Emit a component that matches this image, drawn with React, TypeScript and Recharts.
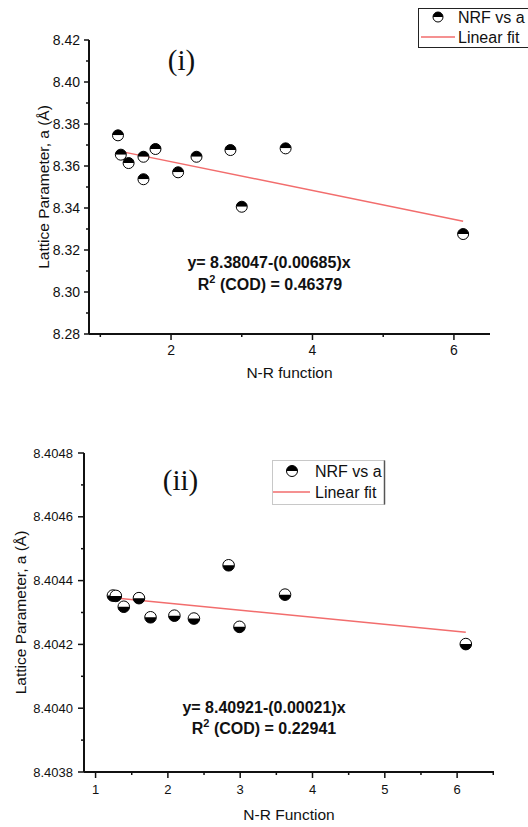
import React from 'react';
import { ScatterChart, Scatter, XAxis, YAxis, ReferenceLine, Legend } from 'recharts';

// ---------- Chart (i) data ----------
const topNRF = [1.25, 1.29, 1.40, 1.61, 1.61, 1.78, 2.10, 2.36, 2.84, 3.00, 3.62, 6.13];
const topLattice = [8.3746, 8.3654, 8.3614, 8.3644, 8.3537, 8.3681, 8.3570, 8.3644, 8.3676, 8.3406, 8.3684, 8.3276];
const topFitX = [1.25, 6.13];
const topFitY = [8.3672, 8.3337];
const topXMajor = [2, 4, 6];
const topXMinor = [1, 3, 5];
const topYMajor = [8.28, 8.30, 8.32, 8.34, 8.36, 8.38, 8.40, 8.42];
const topYMinor = [8.29, 8.31, 8.33, 8.35, 8.37, 8.39, 8.41];

// ---------- Chart (ii) data ----------
const botNRF = [1.24, 1.28, 1.39, 1.60, 1.76, 2.09, 2.36, 2.84, 2.99, 3.62, 6.12];
const botLattice = [8.404353, 8.404352, 8.404318, 8.404345, 8.404285, 8.404290, 8.404281, 8.404448, 8.404255, 8.404356, 8.404201];
const botFitX = [1.24, 6.12];
const botFitY = [8.404346, 8.404238];
const botXMajor = [1, 2, 3, 4, 5, 6];
const botXMinor = [1.5, 2.5, 3.5, 4.5, 5.5, 6.5];
const botYMajor = [8.4038, 8.4040, 8.4042, 8.4044, 8.4046, 8.4048];
const botYMinor = [8.4039, 8.4041, 8.4043, 8.4045, 8.4047];

const SANS = '"Liberation Sans", Arial, sans-serif';
const SERIF = '"Liberation Serif", "Times New Roman", serif';
const AXIS = '#111';
const FIT = '#f26d6d';

const topData = topNRF.map((x, i) => ({ x, y: topLattice[i] }));
const botData = botNRF.map((x, i) => ({ x, y: botLattice[i] }));

const isIn = (arr: number[], v: number) => arr.some((m) => Math.abs(m - v) < 1e-9);

const makeXTick = (majors: number[], fontSize: number, dy: number, majLen: number, minLen: number, digits: number) => (props: any) => {
  const { x, y, payload } = props;
  const v = payload.value;
  const major = isIn(majors, v);
  return (
    <g>
      <line x1={x} x2={x} y1={y} y2={y + (major ? majLen : minLen)} stroke={AXIS} strokeWidth={1.5} />
      {major && (
        <text x={x} y={y + dy} textAnchor="middle" fontSize={fontSize} fontFamily={SANS} fill="#111">
          {v.toFixed(digits)}
        </text>
      )}
    </g>
  );
};

const makeYTick = (majors: number[], fontSize: number, gap: number, majLen: number, minLen: number, digits: number) => (props: any) => {
  const { x, y, payload } = props;
  const v = payload.value;
  const major = isIn(majors, v);
  return (
    <g>
      <line x1={x} x2={x - (major ? majLen : minLen)} y1={y} y2={y} stroke={AXIS} strokeWidth={1.5} />
      {major && (
        <text x={x - gap} y={y + fontSize * 0.36} textAnchor="end" fontSize={fontSize} fontFamily={SANS} fill="#111">
          {v.toFixed(digits)}
        </text>
      )}
    </g>
  );
};

const Half = ({ cx, cy, r, topBlack }: { cx: number; cy: number; r: number; topBlack: boolean }) => {
  const top = `M ${cx - r} ${cy} A ${r} ${r} 0 0 1 ${cx + r} ${cy} Z`;
  const bottom = `M ${cx - r} ${cy} A ${r} ${r} 0 0 0 ${cx + r} ${cy} Z`;
  return (
    <g>
      <path d={top} fill={topBlack ? '#000' : '#fff'} />
      <path d={bottom} fill={topBlack ? '#fff' : '#000'} />
      <circle cx={cx} cy={cy} r={r} fill="none" stroke="#000" strokeWidth={1} />
    </g>
  );
};

const TopMarker = (p: any) => <Half cx={p.cx} cy={p.cy} r={5.5} topBlack={true} />;
const BotMarker = (p: any) => <Half cx={p.cx} cy={p.cy} r={5.8} topBlack={false} />;

const xTitle = (text: string, dy: number) => (props: any) => {
  const vb = props.viewBox;
  return (
    <text x={vb.x + vb.width / 2} y={vb.y + dy} textAnchor="middle" fontSize={15.5} fontFamily={SANS} fill="#111">
      {text}
    </text>
  );
};

const yTitle = (text: string, cx: number) => (props: any) => {
  const vb = props.viewBox;
  const cy = vb.y + vb.height / 2;
  const bx = cx + 5.5;
  return (
    <text x={bx} y={cy} transform={`rotate(-90 ${bx} ${cy})`} textAnchor="middle" fontSize={15.5} fontFamily={SANS} fill="#111">
      {text}
    </text>
  );
};

const TopLegend = () => (
  <svg width={110} height={41} style={{ display: 'block' }}>
    <rect x={0.5} y={0.5} width={130} height={39} fill="#fff" stroke="#222" strokeWidth={1} />
    <Half cx={20} cy={9} r={5} topBlack={true} />
    <text x={40} y={14.5} fontSize={16} fontFamily={SANS} fill="#111">NRF vs a</text>
    <line x1={3} x2={37} y1={29} y2={29} stroke={FIT} strokeWidth={1.5} />
    <text x={40} y={34.5} fontSize={16} fontFamily={SANS} fill="#111">Linear fit</text>
  </svg>
);

const BotLegend = () => (
  <svg width={115} height={46} style={{ display: 'block' }}>
    <rect x={0.5} y={0.5} width={112} height={44} fill="#fff" stroke="#c8c8c8" strokeWidth={1} />
    <line x1={112.5} x2={112.5} y1={0.5} y2={44.5} stroke="#555" strokeWidth={1.5} />
    <Half cx={20} cy={11} r={5.5} topBlack={true} />
    <text x={43} y={16.5} fontSize={16} fontFamily={SANS} fill="#111">NRF vs a</text>
    <line x1={1} x2={38} y1={32} y2={32} stroke={FIT} strokeWidth={1.5} />
    <text x={43} y={38} fontSize={16} fontFamily={SANS} fill="#111">Linear fit</text>
  </svg>
);

export default function App() {
  return (
    <div style={{ position: 'absolute', left: 0, top: 0, width: 528, height: 827, background: '#fff', overflow: 'hidden' }}>
      {/* Chart (i) */}
      <div style={{ position: 'absolute', left: 0, top: 0 }}>
        <ScatterChart width={528} height={400} margin={{ top: 40, right: 38, bottom: 0, left: 0 }}>
          <XAxis
            type="number"
            dataKey="x"
            domain={[0.84, 6.51]}
            allowDataOverflow
            ticks={[...topXMinor, ...topXMajor].sort((a, b) => a - b)}
            interval={0}
            tickSize={0}
            tickMargin={0}
            tickLine={false}
            axisLine={{ stroke: AXIS, strokeWidth: 2 }}
            height={66}
            tick={makeXTick(topXMajor, 14, 21, 6, 3, 0)}
            label={xTitle('N-R function', 44)}
          />
          <YAxis
            type="number"
            dataKey="y"
            domain={[8.28, 8.42]}
            allowDataOverflow
            ticks={[...topYMinor, ...topYMajor].sort((a, b) => a - b)}
            interval={0}
            tickSize={0}
            tickMargin={0}
            tickLine={false}
            axisLine={{ stroke: AXIS, strokeWidth: 2 }}
            width={89}
            tick={makeYTick(topYMajor, 14, 9, 5, 3, 2)}
            label={yTitle('Lattice Parameter, a (Å)', 43)}
          />
          <ReferenceLine
            segment={[{ x: topFitX[0], y: topFitY[0] }, { x: topFitX[1], y: topFitY[1] }]}
            stroke={FIT}
            strokeWidth={1.5}
            ifOverflow="visible"
          />
          <Scatter data={topData} shape={TopMarker} isAnimationActive={false} />
          <Legend
            layout="horizontal"
            verticalAlign="middle"
            align="center"
            content={() => <TopLegend />}
            wrapperStyle={{ left: 418, top: 8, width: 110, height: 41, overflow: 'hidden' }}
          />
        </ScatterChart>
      </div>

      {/* Chart (ii) */}
      <div style={{ position: 'absolute', left: 0, top: 410 }}>
        <ScatterChart width={528} height={417} margin={{ top: 43, right: 34, bottom: 0, left: 0 }}>
          <XAxis
            type="number"
            dataKey="x"
            domain={[0.84, 6.51]}
            allowDataOverflow
            ticks={[...botXMajor, ...botXMinor].sort((a, b) => a - b)}
            interval={0}
            tickSize={0}
            tickMargin={0}
            tickLine={false}
            axisLine={{ stroke: AXIS, strokeWidth: 2 }}
            height={55}
            tick={makeXTick(botXMajor, 13, 22, 6, 3, 0)}
            label={xTitle('N-R Function', 48)}
          />
          <YAxis
            type="number"
            dataKey="y"
            domain={[8.4038, 8.4048]}
            allowDataOverflow
            ticks={[...botYMinor, ...botYMajor].sort((a, b) => a - b)}
            interval={0}
            tickSize={0}
            tickMargin={0}
            tickLine={false}
            axisLine={{ stroke: AXIS, strokeWidth: 2 }}
            width={84}
            tick={makeYTick(botYMajor, 13, 11, 6, 3, 4)}
            label={yTitle('Lattice Parameter, a (Å)', 20)}
          />
          <ReferenceLine
            segment={[{ x: botFitX[0], y: botFitY[0] }, { x: botFitX[1], y: botFitY[1] }]}
            stroke={FIT}
            strokeWidth={1.5}
            ifOverflow="visible"
          />
          <Scatter data={botData} shape={BotMarker} isAnimationActive={false} />
          <Legend
            layout="horizontal"
            verticalAlign="middle"
            align="center"
            content={() => <BotLegend />}
            wrapperStyle={{ left: 272, top: 50, width: 115, height: 46 }}
          />
        </ScatterChart>
      </div>

      {/* Annotations */}
      <svg width={528} height={827} style={{ position: 'absolute', left: 0, top: 0, pointerEvents: 'none' }}>
        <text x={181.5} y={70} textAnchor="middle" fontSize={29} fontFamily={SERIF} fill="#111">(i)</text>
        <text x={269} y={268} textAnchor="middle" fontSize={16} fontWeight="bold" fontFamily={SANS} fill="#111">
          y= 8.38047-(0.00685)x
        </text>
        <text x={270} y={290} textAnchor="middle" fontSize={16} fontWeight="bold" fontFamily={SANS} fill="#111">
          R<tspan fontSize={11} dy={-7}>2</tspan><tspan dy={7}> (COD) = 0.46379</tspan>
        </text>

        <text x={180.5} y={490} textAnchor="middle" fontSize={29} fontFamily={SERIF} fill="#111">(ii)</text>
        <text x={264} y={713} textAnchor="middle" fontSize={16} fontWeight="bold" fontFamily={SANS} fill="#111">
          y= 8.40921-(0.00021)x
        </text>
        <text x={264} y={734} textAnchor="middle" fontSize={16} fontWeight="bold" fontFamily={SANS} fill="#111">
          R<tspan fontSize={11} dy={-7}>2</tspan><tspan dy={7}> (COD) = 0.22941</tspan>
        </text>
      </svg>
    </div>
  );
}
